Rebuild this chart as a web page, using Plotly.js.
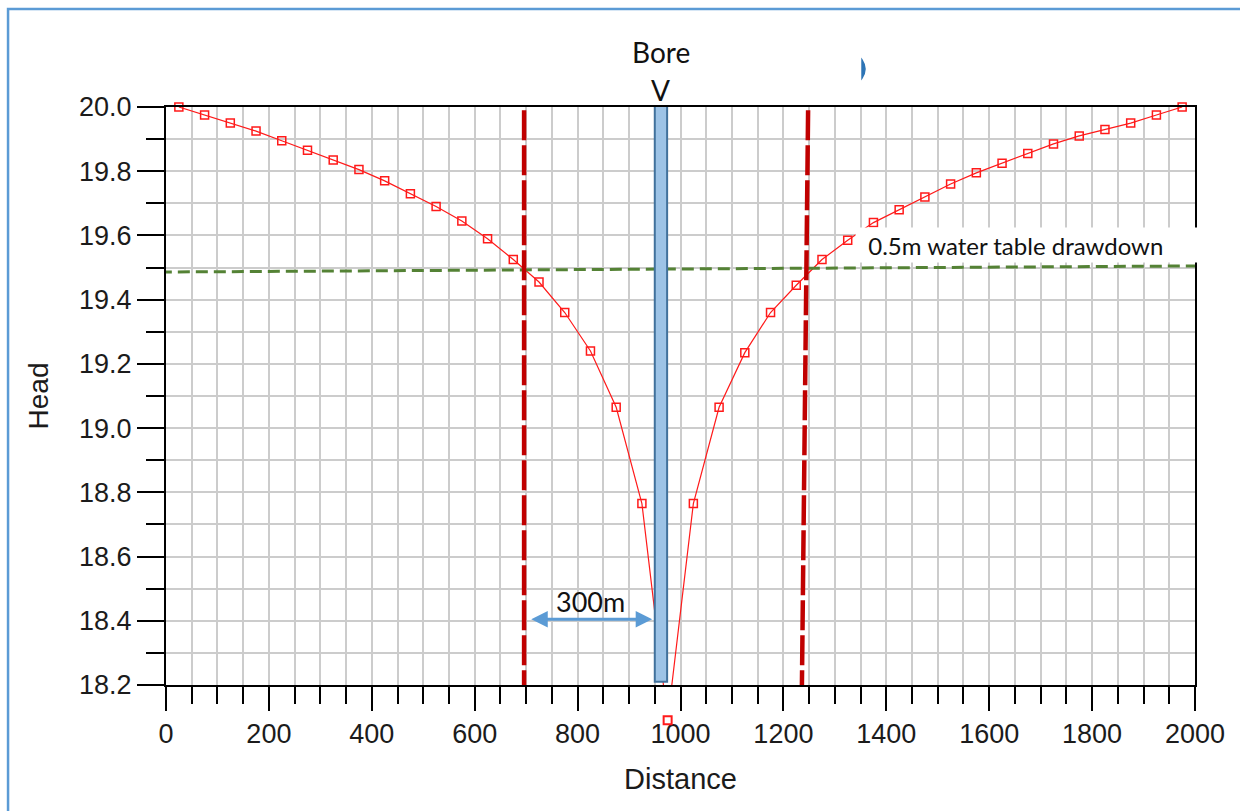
<!DOCTYPE html>
<html>
<head>
<meta charset="utf-8">
<script src="https://cdn.plot.ly/plotly-3.0.1.min.js"></script>
<style>
html,body{margin:0;padding:0;background:#fff;}
#chart{width:1240px;height:811px;}
</style>
</head>
<body>
<div id="chart"></div>
<script>
// Data
var distance = [25,75,125,175,225,275,325,375,425,475,525,575,625,675,725,775,825,875,925,975,
                1025,1075,1125,1175,1225,1275,1325,1375,1425,1475,1525,1575,1625,1675,1725,1775,1825,1875,1925,1975];
var head = [20.0,19.975,19.95,19.925,19.895,19.865,19.835,19.805,19.77,19.73,19.69,19.645,19.59,19.525,19.455,19.36,19.24,19.065,18.765,18.09,
            18.765,19.065,19.235,19.36,19.445,19.525,19.585,19.64,19.68,19.72,19.76,19.795,19.825,19.855,19.885,19.91,19.93,19.95,19.975,20.0];
var xTickVals = [0,200,400,600,800,1000,1200,1400,1600,1800,2000];
var yTickVals = [18.2,18.4,18.6,18.8,19.0,19.2,19.4,19.6,19.8,20.0];

// Annotated features (data coordinates)
var boreX = [950, 974];
var boreY = [18.21, 20.006];
var limitLeft = {x0: 696, y0: 19.99, x1: 696, y1: 18.184};
var limitRight = {x0: 1248, y0: 19.99, x1: 1236, y1: 18.2};
var drawdownLine = {x0: -12, y0: 19.486, x1: 2000, y1: 19.505};
var arrowSpan = {x0: 707, x1: 945, y: 18.405};

var tickFont = {family: 'Liberation Sans, Arial, sans-serif', size: 27, color: '#1b1b1b'};
var noteFont = {family: 'Lato, Open Sans, sans-serif', color: '#111'};
var gridColor = '#cccccc';

// Layout geometry: the main axes sit in the upper part of the plot area, a hidden
// companion y-axis with the same scale reaches a little lower so the one point that
// lies below the axis floor (as in the reference) can still be drawn.
var plotTopPx = 107, axisFloorPx = 685, extraPx = 50, figH = 811, figW = 1240;
var plotH = axisFloorPx + extraPx - plotTopPx;
var mainDomainBottom = extraPx / plotH;
var yRange = [18.2, 20.0];
var unitsPerPx = (yRange[1] - yRange[0]) / (axisFloorPx - plotTopPx);
var y2Range = [yRange[0] - extraPx * unitsPerPx, yRange[1]];
function py(px) { return (axisFloorPx + extraPx - px) / plotH; } // pixel row -> paper y

var lowIdx = head.map(function (v, i) { return v < yRange[0] ? i : -1; }).filter(function (i) { return i >= 0; });

var trace = {
  x: distance, y: head, xaxis: 'x', yaxis: 'y',
  type: 'scatter', mode: 'lines+markers',
  line: {color: '#ff1a1a', width: 1.2},
  marker: {symbol: 'square-open', size: 8, color: '#ff1a1a', line: {width: 1.5, color: '#ff1a1a'}},
  cliponaxis: false,
  hoverinfo: 'x+y'
};
var lowTrace = {
  x: lowIdx.map(function (i) { return distance[i]; }),
  y: lowIdx.map(function (i) { return head[i]; }),
  xaxis: 'x2', yaxis: 'y2',
  type: 'scatter', mode: 'markers',
  marker: {symbol: 'square-open', size: 8, color: '#ff1a1a', line: {width: 2, color: '#ff1a1a'}},
  cliponaxis: false,
  hoverinfo: 'x+y'
};

var layout = {
  width: figW, height: figH,
  margin: {l: 166, r: 45, t: plotTopPx, b: figH - axisFloorPx - extraPx},
  paper_bgcolor: '#ffffff', plot_bgcolor: 'rgba(0,0,0,0)',
  showlegend: false,
  xaxis: {
    anchor: 'y',
    range: [0, 2000], tickvals: xTickVals, ticks: 'outside', ticklen: 24, tickwidth: 2, tickcolor: '#000',
    showline: true, linecolor: '#000', linewidth: 2, mirror: true, zeroline: false,
    showgrid: true, gridcolor: gridColor, gridwidth: 2,
    minor: {dtick: 50, tick0: 0, ticks: 'outside', ticklen: 17, tickwidth: 2, tickcolor: '#000', showgrid: true, gridcolor: gridColor, gridwidth: 2},
    tickfont: tickFont,
    title: {text: 'Distance', font: {family: 'Liberation Sans, Arial, sans-serif', size: 29, color: '#1b1b1b'}, standoff: 20}
  },
  yaxis: {
    domain: [mainDomainBottom, 1], anchor: 'x',
    range: yRange, tickvals: yTickVals, tickformat: '.1f', ticks: 'outside', ticklen: 27, tickwidth: 2, tickcolor: '#000',
    showline: true, linecolor: '#000', linewidth: 2, mirror: true, zeroline: false,
    showgrid: true, gridcolor: gridColor, gridwidth: 2,
    minor: {dtick: 0.1, tick0: 18.2, ticks: 'outside', ticklen: 18, tickwidth: 2, tickcolor: '#000', showgrid: true, gridcolor: gridColor, gridwidth: 2},
    tickfont: tickFont,
    title: {text: 'Head', font: {family: 'Liberation Sans, Arial, sans-serif', size: 28, color: '#1b1b1b'}, standoff: 22}
  },
  xaxis2: {anchor: 'y2', range: [0, 2000], visible: false, showgrid: false, zeroline: false},
  yaxis2: {anchor: 'x2', domain: [0, 1], range: y2Range, visible: false, showgrid: false, zeroline: false},
  shapes: [
    // outer blue frame
    {type: 'path', xref: 'paper', yref: 'paper', layer: 'above',
     path: 'M -0.1535,-0.3 L -0.1535,' + py(9) + ' L 1.06,' + py(9),
     line: {color: '#5b9bd5', width: 2.5}},
    // drawdown line
    {type: 'line', xref: 'x', yref: 'y', layer: 'above',
     x0: drawdownLine.x0, y0: drawdownLine.y0, x1: drawdownLine.x1, y1: drawdownLine.y1,
     line: {color: '#548235', width: 3, dash: '12px,6px'}},
    // red dashed limits
    {type: 'line', xref: 'x', yref: 'y', layer: 'above',
     x0: limitLeft.x0, y0: limitLeft.y0, x1: limitLeft.x1, y1: limitLeft.y1,
     line: {color: '#c00000', width: 4.5, dash: '30px,5px'}},
    {type: 'line', xref: 'x', yref: 'y', layer: 'above',
     x0: limitRight.x0, y0: limitRight.y0, x1: limitRight.x1, y1: limitRight.y1,
     line: {color: '#c00000', width: 4.5, dash: '30px,5px'}},
    // bore
    {type: 'rect', xref: 'x', yref: 'y', layer: 'above',
     x0: boreX[0], x1: boreX[1], y0: boreY[0], y1: boreY[1],
     fillcolor: '#9dc3e6', line: {color: '#41719c', width: 2}},
    // small blue artifact mark
    {type: 'path', xref: 'paper', yref: 'paper', layer: 'above',
     path: 'M 0.6764,' + py(60) + ' Q 0.6822,' + py(69) + ' 0.6764,' + py(78) + ' Z',
     fillcolor: '#2e75b6', line: {color: '#2e75b6', width: 1.5}}
  ],
  annotations: [
    {xref: 'x', yref: 'paper', x: 962, y: py(52), text: 'Bore', showarrow: false,
     xanchor: 'center', yanchor: 'middle', font: Object.assign({size: 28}, noteFont)},
    {xref: 'x', yref: 'paper', x: 962, y: py(90), text: 'V', showarrow: false,
     xanchor: 'center', yanchor: 'middle', font: Object.assign({size: 28}, noteFont)},
    {xref: 'x', yref: 'y', x: 1339, y: 19.57, text: '&nbsp;&nbsp;0.5m water table drawdown', showarrow: false,
     xanchor: 'left', yanchor: 'middle', align: 'left', width: 345, height: 34, bgcolor: '#ffffff',
     borderpad: 0, font: Object.assign({size: 24}, noteFont)},
    {xref: 'x', yref: 'y', x: (arrowSpan.x0 + arrowSpan.x1) / 2, y: 18.46, text: '300m', showarrow: false,
     xanchor: 'center', yanchor: 'middle', font: Object.assign({size: 27}, noteFont)},
    {xref: 'x', yref: 'y', axref: 'x', ayref: 'y', x: arrowSpan.x1, y: arrowSpan.y, ax: arrowSpan.x0, ay: arrowSpan.y,
     text: '', showarrow: true, arrowhead: 2, startarrowhead: 2, arrowside: 'end+start',
     arrowsize: 1.1, startarrowsize: 1.1, arrowwidth: 3, arrowcolor: '#5b9bd5', standoff: 0, startstandoff: 0}
  ]
};

Plotly.newPlot('chart', [trace, lowTrace], layout, {displayModeBar: false, staticPlot: true});
</script>
</body>
</html>
